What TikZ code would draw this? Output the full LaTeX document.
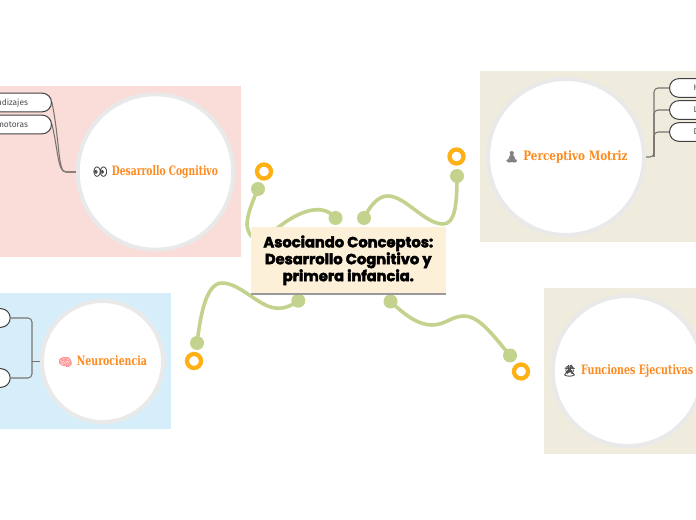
\documentclass[tikz,border=0pt]{standalone}
\usepackage{fontspec}
\setmainfont{Fira Sans}
\newfontfamily\titlefont[BoldFeatures={FakeBold=3}]{Poppins}
\newfontfamily\labfont[BoldFont={DejaVu Serif Bold}]{DejaVu Serif}
\newfontfamily\emojifont[FakeBold=2.5]{Noto Emoji}
\definecolor{pinkbg}{HTML}{FADCD9}
\definecolor{beigebg}{HTML}{EFECDE}
\definecolor{bluebg}{HTML}{D5EEFA}
\definecolor{ring}{HTML}{E9E9E9}
\definecolor{cream}{HTML}{FCF1D8}
\definecolor{branch}{HTML}{C3D28C}
\definecolor{oring}{HTML}{FEB015}
\definecolor{orangetxt}{HTML}{FD8A1E}
\definecolor{wire}{HTML}{7A7470}
\newcommand{\lab}[4]{{\color{#1}\fontsize{8.5pt}{10pt}\emojifont #2}\,\,\resizebox{#3}{7.4pt}{\color{orangetxt}\labfont\bfseries #4}}
\tikzset{
  bigcircle/.style={circle,draw=ring,line width=3pt,fill=white,inner sep=0pt},
  pill/.style={draw=black!75,line width=.75pt,fill=white,rounded corners=7pt,minimum height=14pt,inner ysep=0pt,font=\fontsize{6.3pt}{8pt}\selectfont,text=black!70,text depth=0pt},
  dot/.style={circle,fill=branch,draw=none,inner sep=0pt,minimum size=10.5pt},
  target/.style={circle,draw=oring,line width=3.2pt,fill=white,inner sep=0pt,minimum size=10.5pt},
  branchline/.style={draw=branch,line width=2.7pt,line cap=round},
  wireline/.style={draw=wire,line width=.8pt,rounded corners=3pt},
  wirecurve/.style={draw=wire,line width=.8pt},
  central/.style={fill=cream,minimum width=146pt,minimum height=50.4pt,inner sep=0pt,align=center,
     font=\titlefont\bfseries\fontsize{11pt}{12.7pt}\selectfont}
}
\begin{document}
\begin{tikzpicture}[x=.75pt,y=-.75pt]
\useasboundingbox (0,0) rectangle (696,520);
\clip (0,0) rectangle (696,520);
\fill[white] (0,0) rectangle (696,520);
% panels
\fill[pinkbg] (-5,86) rectangle (241,257);
\fill[beigebg] (480,71) rectangle (701,242);
\fill[bluebg] (-5,293.5) rectangle (170.5,429);
\fill[beigebg] (544,288) rectangle (701,454);
% circles with titles
\node[bigcircle,minimum size=116.6pt] (dc) at (155.5,172) {\lab{black!70}{👀}{79.5pt}{Desarrollo Cognitivo}};
\node[bigcircle,minimum size=117pt] (pm) at (566,157) {\lab{black!50}{🧘}{78pt}{Perceptivo Motriz}};
\node[bigcircle,minimum size=90.8pt] (ne) at (102.5,361.5) {\lab{red!40}{🧠}{52.5pt}{Neurociencia}};
\node[bigcircle,minimum size=112.5pt] (fe) at (627.7,371) {\lab{black!70}{🌋}{84pt}{Funciones Ejecutivas}};
% sub-topic pills
\node[pill,anchor=east,text width=24pt,align=right,inner xsep=17.6pt] (a1) at (52,102.5) {ndizajes};
\node[pill,anchor=east,text width=24pt,align=right,inner xsep=17.6pt] (a2) at (52,124.5) {motoras};
\node[pill,anchor=west,text width=20pt,align=left,inner xsep=18pt] (b1) at (669,88) {H};
\node[pill,anchor=west,text width=20pt,align=left,inner xsep=18pt] (b2) at (669,110) {L};
\node[pill,anchor=west,text width=20pt,align=left,inner xsep=18pt] (b3) at (669,132) {D};
\node[pill,anchor=east,minimum width=30pt] (c1) at (10.7,318) {};
\node[pill,anchor=east,minimum width=30pt] (c2) at (10.7,378) {};
% wires
\draw[wirecurve] (dc.west) -- ++(-10,0) .. controls +(-8,0) and +(8,40) .. (a1.east);
\draw[wirecurve] (dc.west) -- ++(-10,0) .. controls +(-8,0) and +(6,25) .. (a2.east);
\draw[wireline] (pm.east) -| (654,88) -- (b1.west);
\draw[wireline] (654,157) |- (b2.west);
\draw[wireline] (654,157) |- (b3.west);
\draw[wireline] (ne.west) -- (32,361.5);
\draw[wireline] (c1.east) -| (32,361.5) |- (c2.east);
% dots
\node[dot] (d1) at (258,189) {};
\node[dot] (d2) at (335.5,218) {};
\node[dot] (d3) at (364,218) {};
\node[dot] (d4) at (457,176) {};
\node[dot] (d5) at (298.3,300.7) {};
\node[dot] (d6) at (390.5,301.5) {};
\node[dot] (d7) at (197,343) {};
\node[dot] (d8) at (510,355.5) {};
\node[target] (t1) at (264,171.5) {};
\node[target] (t2) at (456.5,156.5) {};
\node[target] (t3) at (194,361) {};
\node[target] (t4) at (521,371.5) {};
% branches
\draw[branchline] (d2.center) .. controls (325,205) and (305,207) .. (280,226) .. controls (262,240) and (250,245) .. (247,225) .. controls (247,215) and (253,200) .. (d1.center);
\draw[branchline] (d3.center) .. controls (372,202) and (380,196) .. (388,196) .. controls (405,196) and (425,224) .. (443,224) .. controls (455,224) and (457,205) .. (d4.center);
\draw[branchline] (d5.center) .. controls (290,307) and (282,309) .. (275,308) .. controls (258,306) and (240,283) .. (222,283) .. controls (205,283) and (200,320) .. (d7.center);
\draw[branchline] (d6.center) .. controls (405,315) and (418,325) .. (432,325) .. controls (445,325) and (452,316) .. (464,316) .. controls (480,316) and (495,338) .. (d8.center);
% central topic
\node[central] (main) at (348.3,260.3) {Asociando Conceptos:\\Desarrollo Cognitivo y\\primera infancia.};
\draw[black!40,line width=1.5pt] (main.south west) -- (main.south east);
\end{tikzpicture}
\end{document}
